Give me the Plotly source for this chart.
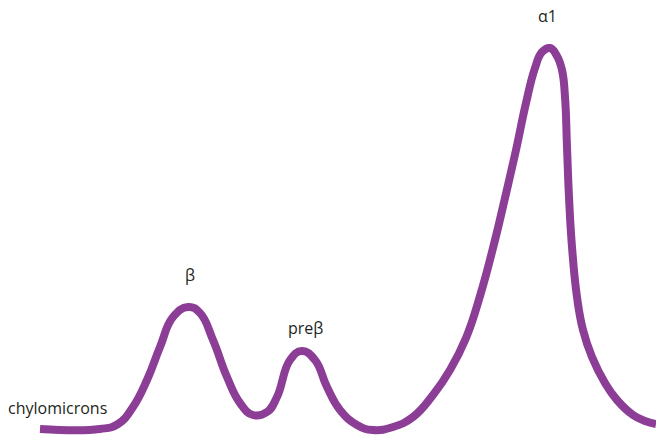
import plotly.graph_objects as go

# Electrophoretic mobility position (arbitrary units, left = origin)
mobility = [40, 100, 118, 133, 147, 160, 173, 188, 200, 213, 227, 240, 253, 267,
            277, 290, 302, 315, 327, 340, 357, 373, 393, 413, 433, 450, 466, 480, 493,
            505, 516, 526, 535, 542, 550, 557, 562, 565, 567, 569, 572, 577, 583, 592,
            605, 617, 633, 645, 656]
intensity_px = [429, 429, 424, 407, 380, 347, 317, 307, 313, 340, 377, 403, 415, 412,
                397, 360, 351, 360, 387, 410, 425, 430, 427, 417, 395, 370, 338, 296, 248,
                198, 150, 103, 68, 52, 48, 56, 70, 97, 147, 197, 247, 297, 330, 357,
                383, 400, 415, 421, 424]
intensity = [437 - v for v in intensity_px]

band_labels = ["chylomicrons", "β", "preβ", "α1"]
band_x = [57, 190, 305, 547]
band_y = [437 - 408, 437 - 275, 437 - 328, 437 - 16]

fig = go.Figure()
fig.add_trace(go.Scatter(
    x=mobility, y=intensity, mode="lines",
    line=dict(color="#8C3D96", width=8, shape="spline", smoothing=1.3),
    hoverinfo="skip", showlegend=False,
))
for t, x, y in zip(band_labels, band_x, band_y):
    fig.add_annotation(x=x, y=y, text=t, showarrow=False,
                       font=dict(family="Open Sans, Noto Sans, sans-serif", size=16, color="#231F20"),
                       xanchor="center", yanchor="middle")

fig.update_layout(
    width=656, height=437,
    margin=dict(l=0, r=0, t=0, b=0),
    paper_bgcolor="white", plot_bgcolor="white",
    xaxis=dict(range=[0, 656], visible=False, fixedrange=True),
    yaxis=dict(range=[0, 437], visible=False, fixedrange=True),
)
fig.write_html("out.html", config={"displayModeBar": False},
               post_script="document.body.style.margin='0px';")
